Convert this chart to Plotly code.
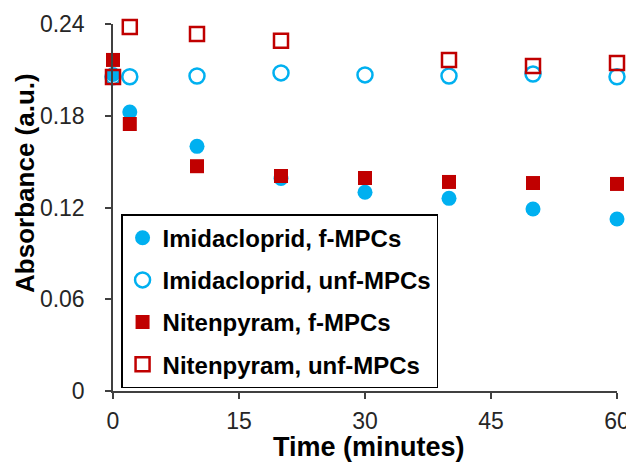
import plotly.graph_objects as go

# Data
time_imi_f = [0, 2, 10, 20, 30, 40, 50, 60]
imi_f = [0.207, 0.1825, 0.160, 0.139, 0.130, 0.126, 0.119, 0.1125]

time_imi_unf = [0, 2, 10, 20, 30, 40, 50, 60]
imi_unf = [0.2055, 0.2055, 0.206, 0.208, 0.2067, 0.206, 0.2073, 0.2055]

time_nit_f = [0, 2, 10, 20, 30, 40, 50, 60]
nit_f = [0.2165, 0.1746, 0.147, 0.1406, 0.1393, 0.1367, 0.136, 0.1354]

time_nit_unf = [0, 2, 10, 20, 40, 50, 60]
nit_unf = [0.2054, 0.238, 0.2335, 0.229, 0.2165, 0.2126, 0.2145]

names = ["Imidacloprid, f-MPCs", "Imidacloprid, unf-MPCs",
         "Nitenpyram, f-MPCs", "Nitenpyram, unf-MPCs"]

x_ticks = [0, 15, 30, 45, 60]
y_ticks = [0, 0.06, 0.12, 0.18, 0.24]
y_tick_labels = ["0", "0.06", "0.12", "0.18", "0.24"]

x_title = "Time (minutes)"
y_title = "Absorbance (a.u.)"

BLUE = "#00B0F0"
RED = "#C00000"
FONT = "Liberation Sans, Arial, sans-serif"

fig = go.Figure()
fig.add_trace(go.Scatter(x=time_imi_f, y=imi_f, mode="markers", name=names[0],
                         legendgroup="a",
                         marker=dict(symbol="circle", size=15, color=BLUE),
                         cliponaxis=False))
fig.add_trace(go.Scatter(x=time_imi_unf, y=imi_unf, mode="markers", name=names[1],
                         legendgroup="b",
                         marker=dict(symbol="circle-open", size=15, color=BLUE,
                                     line=dict(width=2.5, color=BLUE)),
                         cliponaxis=False))
fig.add_trace(go.Scatter(x=time_nit_f, y=nit_f, mode="markers", name=names[2],
                         legendgroup="c",
                         marker=dict(symbol="square", size=14, color=RED),
                         cliponaxis=False))
fig.add_trace(go.Scatter(x=time_nit_unf, y=nit_unf, mode="markers", name=names[3],
                         legendgroup="d",
                         marker=dict(symbol="square-open", size=14, color=RED,
                                     line=dict(width=2.5, color=RED)),
                         cliponaxis=False))

axis_color = "#404040"
fig.update_layout(
    width=626, height=458,
    margin=dict(l=105, r=17, t=16, b=75),
    paper_bgcolor="white", plot_bgcolor="white",
    font=dict(family=FONT, color="#000000"),
    showlegend=True,
    legend=dict(x=0.016, y=0.482, xanchor="left", yanchor="top",
                bgcolor="white", bordercolor="#000000", borderwidth=1.5,
                font=dict(family=FONT, size=24, color="#000000", weight="bold"),
                tracegroupgap=8, traceorder="grouped"),
    xaxis=dict(range=[0, 60], tickvals=x_ticks, ticks="outside", ticklen=6,
               tickcolor=axis_color, tickwidth=1.5, automargin=False,
               showline=True, linecolor=axis_color, linewidth=1.5,
               showgrid=False, zeroline=False, ticklabelstandoff=3,
               tickfont=dict(family=FONT, size=23, color="#262626")),
    yaxis=dict(range=[0, 0.24], tickvals=y_ticks, ticktext=y_tick_labels,
               ticks="outside", ticklen=6, tickcolor=axis_color, tickwidth=1.5,
               showline=True, linecolor=axis_color, linewidth=1.5, automargin=False,
               showgrid=False, zeroline=False, ticklabelstandoff=16,
               tickfont=dict(family=FONT, size=23, color="#262626")),
    annotations=[
        dict(text="<b>" + x_title + "</b>", xref="paper", yref="paper",
             x=0.507, y=-0.1526, xanchor="center", yanchor="middle",
             showarrow=False, font=dict(family=FONT, size=27, color="#000000")),
        dict(text="<b>" + y_title + "</b>", xref="paper", yref="paper",
             x=-0.1746, y=0.567, xanchor="center", yanchor="middle", textangle=-90,
             showarrow=False, font=dict(family=FONT, size=26, color="#000000")),
    ],
)

fig.write_html("out.html")
